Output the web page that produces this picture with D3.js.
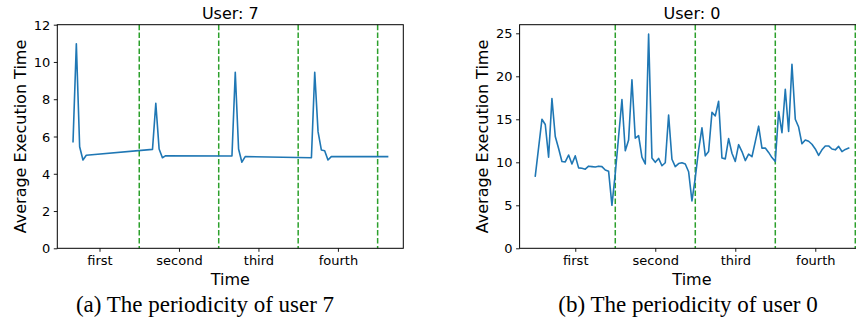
<!DOCTYPE html>
<meta charset="utf-8">
<head>
<title>Periodicity of user 7 and user 0</title>
<script src="https://cdn.jsdelivr.net/npm/d3@7/dist/d3.min.js"></script>
<style>
    body { margin: 0; background: #fff; }
    svg text { font-family: "DejaVu Sans", sans-serif; fill: #000; }
    svg text.caption { font-family: "Liberation Serif", serif; }
</style>
</head>
<body>
<div id="chart"></div>
<script>
    // period labels and where they sit (hours)
    var periodNames = ["first", "second", "third", "fourth"];
    var periodTicks = [12, 36, 60, 84];
    var periodBounds = [24, 48, 72, 96];

    // user 7: sparse samples
    var user7Hours = [4, 5, 6, 7, 8, 28, 29, 30, 31, 32, 52, 53, 54, 55, 56, 76, 77, 78, 79, 80, 81, 82, 99];
    var user7Times = [5.72, 10.97, 5.45, 4.74, 4.99, 5.31, 7.78, 5.33, 4.86, 4.97, 4.95, 9.45, 5.33, 4.62, 4.92,
                      4.86, 9.45, 6.26, 5.28, 5.24, 4.74, 4.92, 4.92];

    // user 0: hourly samples (hour 1 missing)
    var user0Hours = [0, 2, 3, 4, 5, 6, 7, 8, 9, 10, 11, 12, 13, 14, 15, 16, 17, 18, 19, 20, 21, 22, 23,
                      24, 25, 26, 27, 28, 29, 30, 31, 32, 33, 34, 35, 36, 37, 38, 39, 40, 41, 42, 43, 44, 45, 46, 47,
                      48, 49, 50, 51, 52, 53, 54, 55, 56, 57, 58, 59, 60, 61, 62, 63, 64, 65, 66, 67, 68, 69, 70, 71,
                      72, 73, 74, 75, 76, 77, 78, 79, 80, 81, 82, 83, 84, 85, 86, 87, 88, 89, 90, 91, 92, 93, 94];
    var user0Times = [8.4, 15.0, 14.4, 10.6, 17.4, 13.0, 11.6, 10.1, 10.05, 10.85, 9.8, 10.75, 9.35, 9.3, 9.2, 9.55,
                      9.5, 9.45, 9.55, 9.5, 9.1, 8.95, 5.0,
                      8.7, 13.0, 17.3, 11.35, 12.6, 19.6, 12.8, 13.1, 10.6, 9.8, 24.9, 10.5, 10.0, 10.45, 9.6, 9.95,
                      15.5, 10.35, 9.5, 9.85, 9.95, 9.8, 8.9, 5.5,
                      8.2, 11.45, 14.0, 10.75, 11.25, 15.8, 15.4, 17.1, 10.5, 10.4, 12.75, 11.05, 10.1, 12.05, 11.25,
                      10.2, 10.95, 10.65, 12.4, 14.2, 11.65, 11.65, 11.15, 10.55,
                      10.1, 15.9, 13.45, 18.5, 13.6, 21.4, 15.0, 14.1, 12.15, 12.6, 12.45, 12.1, 11.55, 10.8, 11.45,
                      11.9, 11.9, 11.55, 11.45, 11.85, 11.25, 11.5, 11.65];

    var width = 856, height = 322;
    var plotTop = 24.7, plotBottom = 248.3;

    var svg = d3.select("#chart")
                .append("svg")
                .attr("width", width)
                .attr("height", height);

    var panels = [
        {title: "User: 7", caption: "(a) The periodicity of user 7", hours: user7Hours, times: user7Times,
         left: 57.3, right: 403.3, yMax: 12, yTicks: [0, 2, 4, 6, 8, 10, 12], yLabelX: 25.5, capX: 205},
        {title: "User: 0", caption: "(b) The periodicity of user 0", hours: user0Hours, times: user0Times,
         left: 519.6, right: 864.3, yMax: 26, yTicks: [0, 5, 10, 15, 20, 25], yLabelX: 487.5, capX: 688}
    ];

    panels.forEach(function (p) {
        // matplotlib style 5% margins on x
        var xMin = d3.min(p.hours), xMax = d3.max(p.hours);
        var pad = (xMax - xMin) * 0.05;
        var x = d3.scaleLinear().domain([xMin - pad, xMax + pad]).range([p.left, p.right]);
        var y = d3.scaleLinear().domain([0, p.yMax]).range([plotBottom, plotTop]);

        var g = svg.append("g");

        // y axis
        var yAxis = d3.axisLeft(y).tickValues(p.yTicks).tickSize(3.5).tickPadding(3.5).tickSizeOuter(0);
        var ya = g.append("g").attr("transform", "translate(" + p.left + ",0)").call(yAxis);
        ya.select(".domain").remove();
        ya.selectAll("text").style("font-size", "13px").attr("dy", "0.35em");
        ya.selectAll("line").attr("stroke", "#000").attr("stroke-width", 0.9);

        // x axis
        var xAxis = d3.axisBottom(x).tickValues(periodTicks)
                      .tickFormat(function (d, i) { return periodNames[i]; })
                      .tickSize(3.5).tickPadding(3.5).tickSizeOuter(0);
        var xa = g.append("g").attr("transform", "translate(0," + plotBottom + ")").call(xAxis);
        xa.select(".domain").remove();
        xa.selectAll("text").style("font-size", "13px").attr("dy", "0.71em");
        xa.selectAll("line").attr("stroke", "#000").attr("stroke-width", 0.9);

        // period boundaries
        g.selectAll(".bound")
         .data(periodBounds)
         .enter()
         .append("line")
         .attr("class", "bound")
         .attr("x1", function (d) { return x(d); })
         .attr("x2", function (d) { return x(d); })
         .attr("y1", plotTop)
         .attr("y2", plotBottom)
         .attr("stroke", "#2ca02c")
         .attr("stroke-width", 1.5)
         .attr("stroke-dasharray", "5.5,2.4");

        // the series
        var pts = p.hours.map(function (h, i) { return [h, p.times[i]]; });
        var line = d3.line().x(function (d) { return x(d[0]); }).y(function (d) { return y(d[1]); });
        g.append("path")
         .datum(pts)
         .attr("d", line)
         .attr("fill", "none")
         .attr("stroke", "#1f77b4")
         .attr("stroke-width", 1.6)
         .attr("stroke-linejoin", "round")
         .attr("stroke-linecap", "square");

        // frame
        g.append("rect")
         .attr("x", p.left).attr("y", plotTop)
         .attr("width", p.right - p.left).attr("height", plotBottom - plotTop)
         .attr("fill", "none").attr("stroke", "#000").attr("stroke-width", 1);

        // labels
        g.append("text")
         .attr("x", (p.left + p.right) / 2).attr("y", 18.5)
         .attr("text-anchor", "middle").style("font-size", "16px")
         .text(p.title);

        g.append("text")
         .attr("x", (p.left + p.right) / 2).attr("y", 284.5)
         .attr("text-anchor", "middle").style("font-size", "16px")
         .text("Time");

        g.append("text")
         .attr("transform", "translate(" + p.yLabelX + "," + ((plotTop + plotBottom) / 2) + ") rotate(-90)")
         .attr("text-anchor", "middle").style("font-size", "16px")
         .text("Average Execution Time");

        g.append("text")
         .attr("class", "caption")
         .attr("x", p.capX).attr("y", 312)
         .attr("text-anchor", "middle").style("font-size", "23px")
         .text(p.caption);
    });
</script>
</body>
</html>
